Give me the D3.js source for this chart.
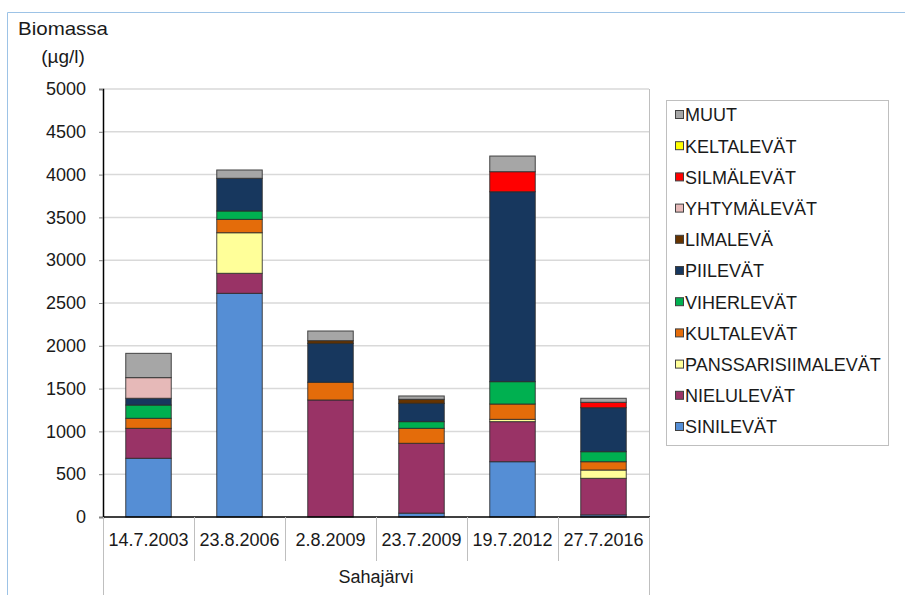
<!DOCTYPE html>
<html>
<head>
<meta charset="utf-8">
<script src="https://cdn.jsdelivr.net/npm/d3@7/dist/d3.min.js"></script>
<style>
  html, body { margin: 0; padding: 0; background: #fff; }
  svg { display: block; font-family: "Liberation Sans", Arial, sans-serif; }
</style>
</head>
<body>
<svg id="chart" width="905" height="595"></svg>
<script>
// Sampling dates at Sahajärvi
const categories = ["14.7.2003", "23.8.2006", "2.8.2009", "23.7.2009", "19.7.2012", "27.7.2016"];

// Algal group names, stacked bottom to top
const groups = ["SINILEVÄT", "NIELULEVÄT", "PANSSARISIIMALEVÄT", "KULTALEVÄT", "VIHERLEVÄT",
                "PIILEVÄT", "LIMALEVÄ", "YHTYMÄLEVÄT", "SILMÄLEVÄT", "KELTALEVÄT", "MUUT"];

// Biomass per group (µg/l), one value per sampling date
const sinilevat          = [686, 2613,    0,  45,  646,  25];
const nielulevat         = [350,  234, 1367, 816,  468, 427];
const panssarisiimalevat = [  0,  474,    0,   0,   27,  97];
const kultalevat         = [117,  156,  207, 175,  179,  97];
const viherlevat         = [155,   98,    0,  78,  261, 117];
const piilevat           = [ 79,  382,  455, 214, 2219, 514];
const limaleva           = [  0,    0,   31,  47,    0,   0];
const yhtymalevat        = [241,    0,    0,   0,    0,   0];
const silmalevat         = [  0,    0,    0,   0,  234,  63];
const keltalevat         = [  0,    0,    0,   0,    0,   0];
const muut               = [284,   97,  113,  39,  183,  47];

const yTicks = [0, 500, 1000, 1500, 2000, 2500, 3000, 3500, 4000, 4500, 5000];

const groupColors = ["#558ED5", "#993366", "#FFFF99", "#E46C0A", "#00B050",
                     "#17375E", "#663300", "#E6B9B8", "#FF0000", "#FFFF00", "#A6A6A6"];

const seriesValues = [sinilevat, nielulevat, panssarisiimalevat, kultalevat, viherlevat,
                      piilevat, limaleva, yhtymalevat, silmalevat, keltalevat, muut];

// Table for d3.stack: one row per date
const table = categories.map((c, i) => {
  const row = { date: c };
  groups.forEach((g, k) => { row[g] = seriesValues[k][i]; });
  return row;
});

const svg = d3.select("#chart");
const margin = { left: 103, right: 649, top: 89, bottom: 517 };
const textColor = "#1a1a1a";
const fontSize = 18;

// Outer chart frame
svg.append("path")
  .attr("d", "M7.5,595 L7.5,12.5 L905,12.5")
  .attr("fill", "none").attr("stroke", "#9DC3E6").attr("stroke-width", 1);

const x = d3.scaleBand().domain(categories).range([margin.left, margin.right]).paddingInner(0.5).paddingOuter(0.25);
const xOuter = d3.scaleBand().domain(categories).range([margin.left, margin.right]);
const y = d3.scaleLinear().domain([0, 5000]).range([margin.bottom, margin.top]);

// Horizontal gridlines
svg.append("g").selectAll("line").data(yTicks.filter(t => t > 0)).join("line")
  .attr("x1", margin.left).attr("x2", margin.right)
  .attr("y1", d => y(d)).attr("y2", d => y(d))
  .attr("stroke", "#D9D9D9").attr("stroke-width", 1.5);

// Plot area right edge
svg.append("line")
  .attr("x1", margin.right + 0.5).attr("x2", margin.right + 0.5)
  .attr("y1", margin.top).attr("y2", margin.bottom)
  .attr("stroke", "#BFBFBF").attr("stroke-width", 1);

// Stacked bars
const stack = d3.stack().keys(groups)(table);
svg.append("g").selectAll("g").data(stack).join("g")
  .attr("fill", (d, i) => groupColors[i])
  .selectAll("rect").data(d => d.filter(s => s[1] - s[0] > 0)).join("rect")
  .attr("x", d => x(d.data.date))
  .attr("width", x.bandwidth())
  .attr("y", d => y(d[1]))
  .attr("height", d => y(d[0]) - y(d[1]))
  .attr("stroke", "#2b2b2b").attr("stroke-width", 1).attr("stroke-opacity", 0.85);

// Y axis
const yAxis = d3.axisLeft(y).tickValues(yTicks).tickFormat(d3.format("d")).tickSize(4).tickPadding(13);
const gy = svg.append("g").attr("transform", `translate(${margin.left},0)`).call(yAxis);
gy.select(".domain").attr("stroke", "#000").attr("stroke-width", 1.5);
gy.selectAll(".tick line").attr("stroke", "#808080");
gy.selectAll(".tick text").attr("fill", textColor).attr("font-size", fontSize)
  .attr("font-family", "Liberation Sans, Arial, sans-serif");

// Category axis baseline
svg.append("line")
  .attr("x1", margin.left).attr("x2", margin.right + 1)
  .attr("y1", margin.bottom).attr("y2", margin.bottom)
  .attr("stroke", "#000").attr("stroke-width", 1.5);

// Category separators
const sepX = categories.map(c => xOuter(c)).concat([margin.right]);
svg.append("g").selectAll("line").data(sepX).join("line")
  .attr("x1", d => d + 0.5).attr("x2", d => d + 0.5)
  .attr("y1", margin.bottom)
  .attr("y2", (d, i) => (i === 0 || i === sepX.length - 1) ? 595 : 561)
  .attr("stroke", "#BFBFBF").attr("stroke-width", 1);

// Category labels
svg.append("g").selectAll("text").data(categories).join("text")
  .attr("x", d => xOuter(d) + xOuter.bandwidth() / 2)
  .attr("y", 546)
  .attr("text-anchor", "middle")
  .attr("font-size", fontSize).attr("fill", textColor)
  .text(d => d);

// Lake name
svg.append("text")
  .attr("x", (margin.left + margin.right) / 2).attr("y", 583)
  .attr("text-anchor", "middle").attr("font-size", fontSize).attr("fill", textColor)
  .text("Sahajärvi");

// Y axis title
svg.append("text").attr("x", 63).attr("y", 35)
  .attr("text-anchor", "middle").attr("font-size", 19).attr("fill", textColor)
  .attr("textLength", 90).attr("lengthAdjust", "spacingAndGlyphs")
  .text("Biomassa");
svg.append("text").attr("x", 63).attr("y", 63)
  .attr("text-anchor", "middle").attr("font-size", 19).attr("fill", textColor)
  .text("(µg/l)");

// Legend, top entry is the last stacked group
const legend = svg.append("g");
legend.append("rect")
  .attr("x", 666.5).attr("y", 100.5).attr("width", 222).attr("height", 345)
  .attr("fill", "#fff").attr("stroke", "#BFBFBF").attr("stroke-width", 1);
const legendOrder = groups.map((g, i) => ({ name: g, color: groupColors[i] })).reverse();
const ly = d3.scalePoint().domain(legendOrder.map(d => d.name)).range([115, 427]);
const items = legend.selectAll("g.item").data(legendOrder).join("g").attr("class", "item")
  .attr("transform", d => `translate(0,${ly(d.name)})`);
items.append("rect")
  .attr("x", 675.5).attr("y", -4.5).attr("width", 8).attr("height", 8)
  .attr("fill", d => d.color).attr("stroke", "#404040").attr("stroke-width", 1);
items.append("text")
  .attr("x", 685).attr("y", 0).attr("dy", "0.36em")
  .attr("font-size", fontSize).attr("fill", textColor)
  .text(d => d.name);
</script>
</body>
</html>
